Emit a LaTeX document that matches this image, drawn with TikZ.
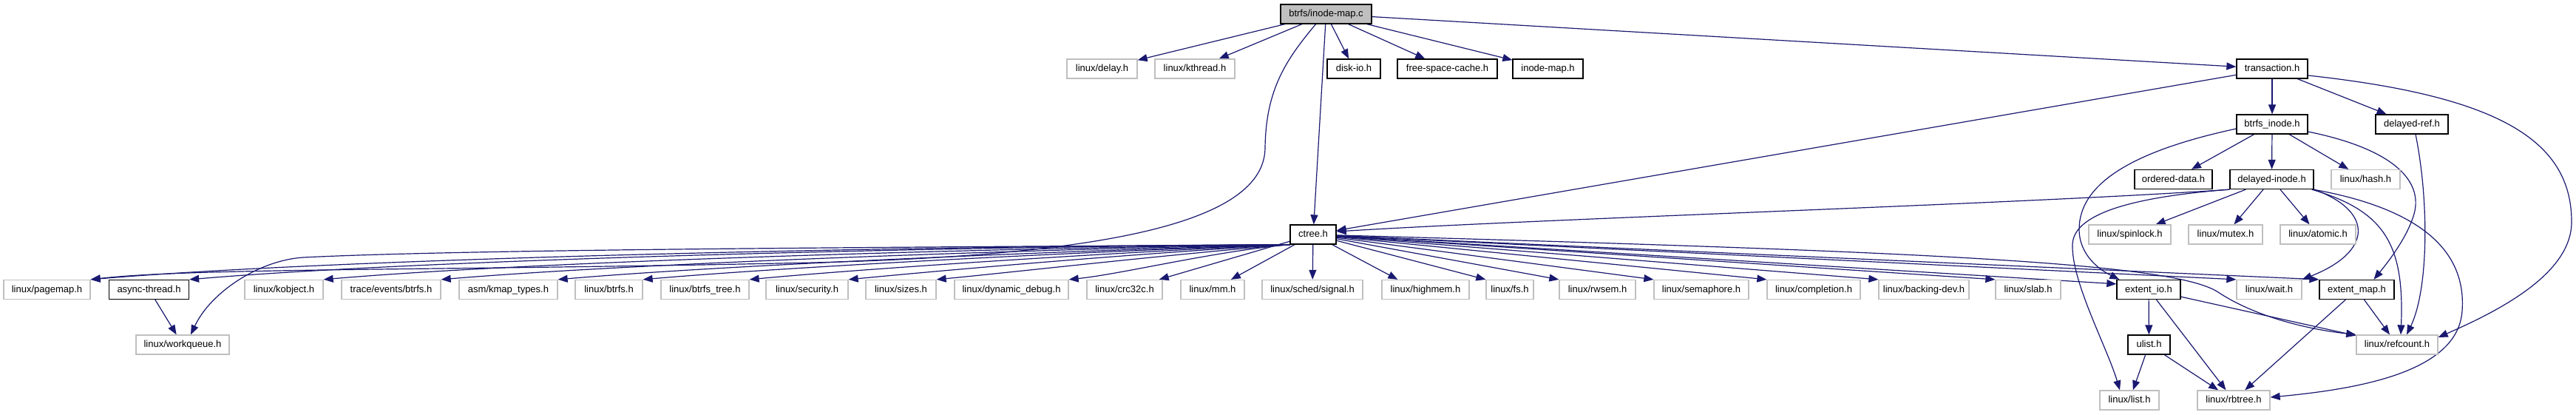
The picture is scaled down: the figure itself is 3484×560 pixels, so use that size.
\documentclass[tikz,border=0pt]{standalone}
\usepackage{fontspec}
\setmainfont{Liberation Sans}
\usetikzlibrary{arrows.meta}
\definecolor{edgeblue}{HTML}{191970}
\definecolor{greyline}{HTML}{BFBFBF}
\pgfdeclarelayer{back}
\pgfdeclarelayer{bg}
\pgfsetlayers{back,bg,main}
\begin{document}
\begin{tikzpicture}[x=1pt,y=-1pt,
  nbox/.style={draw=black, line width=1.3pt, minimum height=26pt, inner xsep=4pt, inner ysep=0pt,
    text height=9.4pt, text depth=2pt, font=\fontsize{13}{13}\selectfont, fill=white},
  gbox/.style={nbox, draw=greyline},
  rootbox/.style={nbox, fill=greyline},
  dep/.style={draw=edgeblue, line width=1.2pt, -{Triangle[length=13pt,width=10pt]}},
]
\useasboundingbox (0,0) rectangle (3484,560);
\begin{pgfonlayer}{back}
\fill[white] (0,0) rectangle (3484,560);
\end{pgfonlayer}

% row 0
\node[rootbox, minimum width=123pt] (top) at (1793.5,19) {btrfs/inode-map.c};
% row 1
\node[gbox, minimum width=95pt]  (delay)       at (1490.5,93) {linux/delay.h};
\node[gbox, minimum width=108pt] (kthread)     at (1616,93)   {linux/kthread.h};
\node[nbox, minimum width=72pt]  (diskio)      at (1831,93)   {disk-io.h};
\node[nbox, minimum width=135pt] (fsc)         at (1957.5,93) {free-space-cache.h};
\node[nbox, minimum width=95pt]  (inodemap)    at (2093.5,93) {inode-map.h};
\node[nbox, minimum width=96pt]  (transaction) at (3073,93)   {transaction.h};
% row 2
\node[nbox, minimum width=96pt]  (btrfsinode)  at (3073,168)  {btrfs\_inode.h};
\node[nbox, minimum width=98pt]  (delayedref)  at (3262,168)  {delayed-ref.h};
% row 3
\node[nbox, minimum width=105pt] (ordered)      at (2939.5,242.5) {ordered-data.h};
\node[nbox, minimum width=113pt] (delayedinode) at (3072.5,242.5) {delayed-inode.h};
\node[gbox, minimum width=93pt]  (hash)         at (3199.5,242.5) {linux/hash.h};
% row 4
\node[nbox, minimum width=62pt]  (ctree)    at (1776,317)   {ctree.h};
\node[gbox, minimum width=111pt] (spinlock) at (2880.5,317) {linux/spinlock.h};
\node[gbox, minimum width=100pt] (mutex)    at (3010,317)   {linux/mutex.h};
\node[gbox, minimum width=102pt] (atomic)   at (3135,317)   {linux/atomic.h};
% row 5
\node[gbox, minimum width=117pt] (pagemap)    at (63.5,391.5)   {linux/pagemap.h};
\node[nbox, minimum width=108pt] (async)      at (201.5,391.5)  {async-thread.h};
\node[gbox, minimum width=106pt] (kobject)    at (384,391.5)    {linux/kobject.h};
\node[gbox, minimum width=134pt] (trace)      at (529,391.5)    {trace/events/btrfs.h};
\node[gbox, minimum width=133pt] (kmap)       at (687.5,391.5)  {asm/kmap\_types.h};
\node[gbox, minimum width=91pt]  (lbtrfs)     at (823.5,391.5)  {linux/btrfs.h};
\node[gbox, minimum width=119pt] (btrfstree)  at (953.5,391.5)  {linux/btrfs\_tree.h};
\node[gbox, minimum width=111pt] (security)   at (1091.5,391.5) {linux/security.h};
\node[gbox, minimum width=95pt]  (sizes)      at (1218.5,391.5) {linux/sizes.h};
\node[gbox, minimum width=154pt] (dyndebug)   at (1368,391.5)   {linux/dynamic\_debug.h};
\node[gbox, minimum width=102pt] (crc)        at (1521,391.5)   {linux/crc32c.h};
\node[gbox, minimum width=86pt]  (mm)         at (1640,391.5)   {linux/mm.h};
\node[gbox, minimum width=136pt] (sched)      at (1775,391.5)   {linux/sched/signal.h};
\node[gbox, minimum width=118pt] (highmem)    at (1928,391.5)   {linux/highmem.h};
\node[gbox, minimum width=64pt]  (fs)         at (2042,391.5)   {linux/fs.h};
\node[gbox, minimum width=103pt] (rwsem)      at (2160.5,391.5) {linux/rwsem.h};
\node[gbox, minimum width=128pt] (semaphore)  at (2301,391.5)   {linux/semaphore.h};
\node[gbox, minimum width=126pt] (completion) at (2453,391.5)   {linux/completion.h};
\node[gbox, minimum width=122pt] (backing)    at (2602,391.5)   {linux/backing-dev.h};
\node[gbox, minimum width=88pt]  (slab)       at (2743,391.5)   {linux/slab.h};
\node[nbox, minimum width=86pt]  (extentio)   at (2906,391.5)   {extent\_io.h};
\node[gbox, minimum width=88pt]  (wait)       at (3069,391.5)   {linux/wait.h};
\node[nbox, minimum width=101pt] (extentmap)  at (3187.5,391.5) {extent\_map.h};
% row 6
\node[gbox, minimum width=126pt] (workqueue) at (247,466)    {linux/workqueue.h};
\node[nbox, minimum width=57pt]  (ulist)     at (2906.5,466) {ulist.h};
\node[gbox, minimum width=110pt] (refcount)  at (3242,466)   {linux/refcount.h};
% row 7
\node[gbox, minimum width=80pt] (list)   at (2880,541) {linux/list.h};
\node[gbox, minimum width=98pt] (rbtree) at (3021,541) {linux/rbtree.h};

\begin{pgfonlayer}{bg}
% from btrfs/inode-map.c
\draw[dep] (top) -- (delay);
\draw[dep] (top) -- (kthread);
\draw[dep] (top) -- (diskio);
\draw[dep] (top) -- (fsc);
\draw[dep] (top) -- (inodemap);
\draw[dep] (top) -- (transaction);
\draw[dep] (top) -- (ctree);
\draw[dep] ([xshift=-14pt]top.south) .. controls (1740,80) and (1712,120) .. (1711,200)
  .. controls (1710,300) and (1500,345) .. (1100,355)
  .. controls (600,366) and (260,362) .. (pagemap.north east);
% from transaction.h
\draw[dep] (transaction) -- (btrfsinode);
\draw[dep] (transaction) -- (delayedref);
\draw[dep] (transaction) -- (ctree);
\draw[dep] ([yshift=-9pt]transaction.east) .. controls (3380,130) and (3478,190) .. (3478,300)
  .. controls (3478,370) and (3380,420) .. ([yshift=10pt]refcount.east);
% from btrfs_inode.h
\draw[dep] (btrfsinode) -- (ordered);
\draw[dep] (btrfsinode) -- (delayedinode);
\draw[dep] (btrfsinode) -- (hash);
\draw[dep] ([yshift=-6pt]btrfsinode.west) .. controls (2880,205) and (2812,250) .. (2812,310)
  .. controls (2812,345) and (2840,365) .. ([xshift=4pt]extentio.north west);
\draw[dep] ([yshift=-10pt]btrfsinode.east) .. controls (3230,200) and (3275,240) .. (3266,285)
  .. controls (3258,320) and (3225,360) .. ([xshift=23pt]extentmap.north);
% from delayed-ref.h
\draw[dep] ([xshift=5pt]delayedref.south) .. controls (3285,270) and (3285,390) .. ([xshift=13pt]refcount.north);
% from delayed-inode.h
\draw[dep] (delayedinode.south west) .. controls (2750,275) and (2100,295) .. ([yshift=4pt]ctree.east);
\draw[dep] (delayedinode) -- (spinlock);
\draw[dep] (delayedinode) -- (mutex);
\draw[dep] (delayedinode) -- (atomic);
\draw[dep] (delayedinode.south west) .. controls (2900,265) and (2805,285) .. (2803,330)
  .. controls (2801,380) and (2850,470) .. ([xshift=-13pt]list.north);
\draw[dep] (delayedinode.south east) .. controls (3210,285) and (3210,340) .. (wait.north east);
\draw[dep] ([xshift=-3pt]delayedinode.south east) .. controls (3225,285) and (3252,330) .. ([xshift=5pt]refcount.north);
\draw[dep] ([xshift=-1pt]delayedinode.south east) .. controls (3290,285) and (3335,350) .. (3330,420)
  .. controls (3325,500) and (3200,525) .. ([yshift=4pt]rbtree.east);
% from ctree.h, to the left
\draw[dep] (ctree.south west) .. controls (1180,333) and (450,350) .. (pagemap.north east);
\draw[dep] (ctree.south west) .. controls (1220,334) and (560,352) .. (async.north east);
\draw[dep] (ctree.south west) .. controls (1290,336) and (700,355) .. (kobject.north east);
\draw[dep] (ctree.south west) .. controls (1340,338) and (830,358) .. (trace.north east);
\draw[dep] (ctree.south west) .. controls (1400,340) and (960,360) .. (kmap.north east);
\draw[dep] (ctree.south west) .. controls (1440,341) and (1050,362) .. (lbtrfs.north east);
\draw[dep] (ctree.south west) .. controls (1490,342) and (1160,364) .. (btrfstree.north east);
\draw[dep] (ctree.south west) .. controls (1530,343) and (1270,366) .. (security.north east);
\draw[dep] (ctree.south west) .. controls (1580,344) and (1370,368) .. (sizes.north east);
\draw[dep] (ctree.south west) .. controls (1640,340) and (1520,370) .. (dyndebug.north east);
\draw[dep] (ctree) -- (crc);
\draw[dep] (ctree) -- (mm);
\draw[dep] (ctree) -- (sched);
\draw[dep] ([xshift=2pt]ctree.south west) .. controls (1300,334) and (650,336) .. (410,348)
  .. controls (350,352) and (285,395) .. ([xshift=11pt]workqueue.north);
% from ctree.h, to the right
\draw[dep] (ctree) -- ([xshift=22pt]highmem.north west);
\draw[dep] (ctree) -- (fs.north west);
\draw[dep] (ctree) -- (rwsem.north west);
\draw[dep] (ctree) -- (semaphore.north west);
\draw[dep] (ctree) -- (completion.north west);
\draw[dep] (ctree) -- (backing.north west);
\draw[dep] (ctree) -- (slab.north west);
\draw[dep] (ctree) -- ([yshift=-6pt]extentio.north west);
\draw[dep] (ctree) -- (wait.north west);
\draw[dep] (ctree) -- (extentmap.north west);
\draw[dep] (ctree) .. controls (2600,340) and (2940,355) .. (3000,395)
  .. controls (3050,428) and (3120,445) .. (refcount.north west);
% lower levels
\draw[dep] (async) -- (workqueue);
\draw[dep] (extentio) -- (ulist);
\draw[dep] (extentio) -- (rbtree);
\draw[dep] (extentio) -- (refcount);
\draw[dep] (ulist) -- (list);
\draw[dep] (ulist) -- (rbtree);
\draw[dep] (extentmap) -- (rbtree);
\draw[dep] (extentmap) -- (refcount);
\end{pgfonlayer}
\end{tikzpicture}
\end{document}
